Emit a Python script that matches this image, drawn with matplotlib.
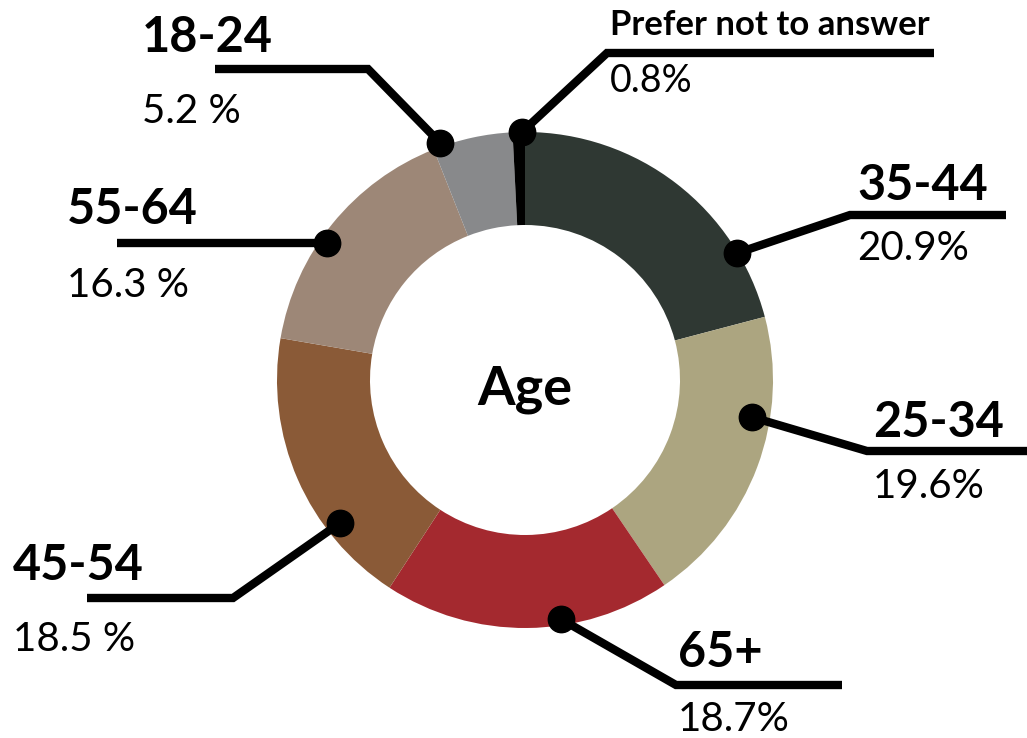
import numpy as np
import matplotlib.pyplot as plt

plt.rcParams['font.family'] = ['Lato', 'DejaVu Sans']

# age groups, clockwise from the top
groups = ['35-44', '25-34', '65+', '45-54', '55-64', '18-24', 'Prefer not to answer']
shares = [20.9, 19.6, 18.7, 18.5, 16.3, 5.2, 0.8]
share_labels = ['20.9%', '19.6%', '18.7%', '18.5 %', '16.3 %', '5.2 %', '0.8%']
colors = ['#2f3833', '#aca580', '#a4292f', '#8a5a37', '#9d8777', '#88898b', '#000000']

W, H = 1027, 738
cx, cy, R, ring = 525, H - 380, 248, 93

fig = plt.figure(figsize=(W / 100, H / 100), dpi=100)
ax = fig.add_axes([0, 0, 1, 1])
ax.pie(shares, colors=colors, startangle=90, counterclock=False,
       center=(cx, cy), radius=R, wedgeprops=dict(width=ring, linewidth=0))
ax.set_xlim(0, W)
ax.set_ylim(0, H)
ax.set_aspect('equal')
ax.axis('off')

ax.text(cx, H - 405, 'Age', ha='center', va='baseline', fontsize=39, fontweight='bold')

# leader layout: dot angle/radius, elbow and line end (pixels, y down), label x, baselines
leaders = {
    '35-44': (30.9, 247, (850, 215), 1006, 857, 200, 260),
    '25-34': (-9.3, 230, (867, 451), 1027, 873, 437, 498),
    '65+': (-81.4, 242, (676, 685), 842, 678, 667, 731),
    '45-54': (217.7, 234, (233, 598), 87, 13, 580, 651),
    '55-64': (145.3, 241, None, 117, 67, 224, 297),
    '18-24': (109.7, 252, (368, 69), 215, 142, 52, 123),
    'Prefer not to answer': (90.7, 248, (607, 53), 934, 610, 35, 92),
}

for g, pct in zip(groups, share_labels):
    ang, r, elbow, xend, tx, b1, b2 = leaders[g]
    dx = cx + r * np.cos(np.radians(ang))
    dy = cy + r * np.sin(np.radians(ang))
    if elbow is None:
        xs, ys = [dx, xend], [dy, dy]
    else:
        xs = [dx, elbow[0], xend]
        ys = [dy, H - elbow[1], H - elbow[1]]
    ax.plot(xs, ys, color='black', lw=6, solid_capstyle='butt', solid_joinstyle='miter')
    ax.plot(dx, dy, 'o', color='black', ms=19)
    if g == 'Prefer not to answer':
        ax.text(tx, H - b1, g, fontsize=25, fontweight='bold', va='baseline')
        ax.text(tx, H - b2, pct, fontsize=27, va='baseline')
    else:
        ax.text(tx, H - b1, g, fontsize=35, fontweight='bold', va='baseline')
        ax.text(tx, H - b2, pct, fontsize=29, va='baseline')

fig.savefig('out.png', dpi=100)
